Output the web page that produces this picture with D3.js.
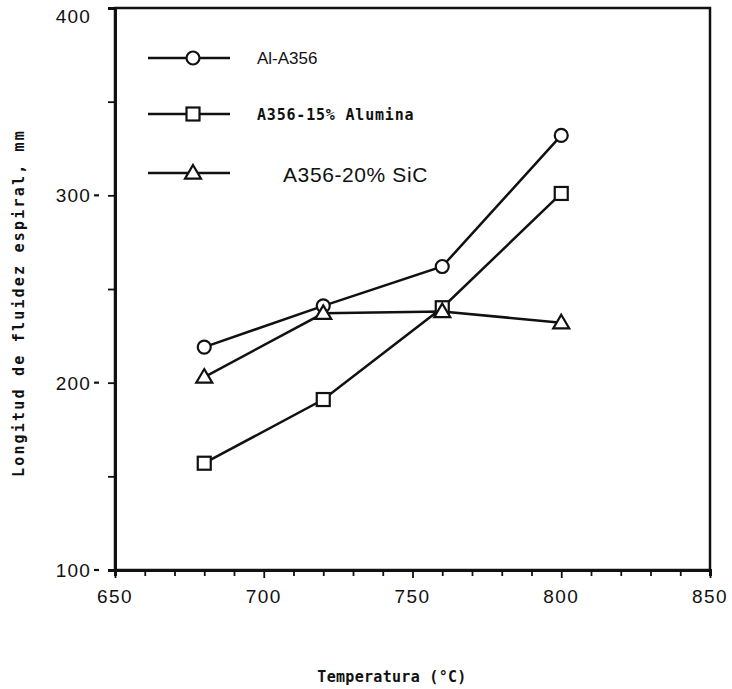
<!DOCTYPE html>
<html><head><meta charset="utf-8">
<script src="https://cdn.jsdelivr.net/npm/d3@7"></script>
<style>body{margin:0;background:#fff}svg{display:block}</style>
</head><body>
<svg id="c" width="732" height="689"></svg>
<script>
const temps = [680, 720, 760, 800];
const seriesNames = ["Al-A356", "A356-15% Alumina", "A356-20% SiC"];
const alA356 = [219, 241, 262, 332];
const alumina = [157, 191, 240, 301];
const sic = [203, 237, 238, 232];
const xTicks = [650, 700, 750, 800, 850];
const yTicks = [100, 200, 300, 400];
const xTitle = "Temperatura (°C)";
const yTitle = "Longitud de fluidez espiral, mm";

const svg = d3.select("#c");
const L = 115, R = 710, T = 8, B = 570;
const x = d3.scaleLinear().domain([650, 850]).range([L, R]);
const y = d3.scaleLinear().domain([100, 400]).range([B, T]);
const ink = "#111";

// frame
svg.append("rect").attr("x", L).attr("y", T).attr("width", R - L).attr("height", B - T)
  .attr("fill", "none").attr("stroke", ink).attr("stroke-width", 2.5);

// x axis
const xa = svg.append("g").attr("transform", `translate(0,${B})`)
  .call(d3.axisBottom(x).tickValues(d3.range(650, 851, 10)).tickSize(6).tickFormat(""));
xa.select(".domain").attr("stroke", ink).attr("stroke-width", 3);
xa.selectAll(".tick line").attr("stroke", ink).attr("stroke-width", 1.8)
  .attr("y2", d => xTicks.includes(d) ? 8 : 6);
svg.append("g").selectAll("text").data(xTicks).join("text")
  .attr("x", d => x(d)).attr("y", 603).attr("text-anchor", "middle")
  .attr("font-family", "Liberation Sans, Arial, sans-serif").attr("font-size", 19)
  .attr("letter-spacing", 1.5).attr("fill", ink).text(d => d);

// y axis
const ya = svg.append("g").attr("transform", `translate(${L},0)`)
  .call(d3.axisLeft(y).tickValues(d3.range(100, 401, 50)).tickSize(7).tickFormat(""));
ya.select(".domain").attr("stroke", ink).attr("stroke-width", 3);
ya.selectAll(".tick line").attr("stroke", ink).attr("stroke-width", 1.8);
svg.append("g").selectAll("text").data(yTicks).join("text")
  .attr("x", 91).attr("y", d => Math.max(y(d) + 7, 23)).attr("text-anchor", "end")
  .attr("font-family", "Liberation Sans, Arial, sans-serif").attr("font-size", 19)
  .attr("letter-spacing", 1.2).attr("fill", ink).text(d => d);
svg.append("g").selectAll("line").data(yTicks.filter(d => d < 400)).join("line")
  .attr("x1", 94).attr("x2", 99).attr("y1", d => y(d)).attr("y2", d => y(d))
  .attr("stroke", ink).attr("stroke-width", 2.2);

// titles
svg.append("text").attr("x", 392).attr("y", 682).attr("text-anchor", "middle")
  .attr("font-family", "DejaVu Sans Mono, monospace").attr("font-weight", "bold")
  .attr("font-size", 15).attr("letter-spacing", 0.3).attr("fill", ink).text(xTitle);
svg.append("text").attr("transform", "translate(24,303) rotate(-90)").attr("text-anchor", "middle")
  .attr("font-family", "DejaVu Sans Mono, monospace").attr("font-weight", "bold")
  .attr("font-size", 15).attr("letter-spacing", 2.2).attr("fill", ink).text(yTitle);

// markers
function marker(g, type, cx, cy) {
  if (type === 0) {
    g.append("circle").attr("cx", cx).attr("cy", cy).attr("r", 6.5)
      .attr("fill", "#fff").attr("stroke", ink).attr("stroke-width", 2.2);
  } else if (type === 1) {
    g.append("rect").attr("x", cx - 6.5).attr("y", cy - 6.5).attr("width", 13).attr("height", 13)
      .attr("fill", "#fff").attr("stroke", ink).attr("stroke-width", 2.2);
  } else {
    const s = 8;
    g.append("path").attr("d", `M${cx},${cy - s}L${cx + s},${cy + s * 0.7}L${cx - s},${cy + s * 0.7}Z`)
      .attr("fill", "#fff").attr("stroke", ink).attr("stroke-width", 2.2);
  }
}

const all = [alA356, alumina, sic];
const line = d3.line().x((d, i) => x(temps[i])).y(d => y(d));
all.forEach((vals) => {
  svg.append("path").datum(vals).attr("d", line).attr("fill", "none")
    .attr("stroke", ink).attr("stroke-width", 2.5);
});
all.forEach((vals, k) => {
  const g = svg.append("g");
  vals.forEach((v, i) => marker(g, k, x(temps[i]), y(v)));
});

// legend
const legY = [58, 114, 173];
const legTextX = [257, 257, 283];
const legFont = [
  {f: "Liberation Sans, Arial, sans-serif", w: "normal", s: 17, ls: 0},
  {f: "DejaVu Sans Mono, monospace", w: "bold", s: 15, ls: 0.8},
  {f: "Liberation Sans, Arial, sans-serif", w: "normal", s: 21, ls: 0.6}
];
seriesNames.forEach((name, k) => {
  const g = svg.append("g");
  g.append("line").attr("x1", 148).attr("x2", 230).attr("y1", legY[k]).attr("y2", legY[k])
    .attr("stroke", ink).attr("stroke-width", 2.5);
  marker(g, k, 193, legY[k]);
  g.append("text").attr("x", legTextX[k]).attr("y", legY[k] + (k === 2 ? 9 : 6))
    .attr("font-family", legFont[k].f).attr("font-weight", legFont[k].w)
    .attr("font-size", legFont[k].s).attr("letter-spacing", legFont[k].ls)
    .attr("fill", ink).text(name);
});
</script>
</body></html>
